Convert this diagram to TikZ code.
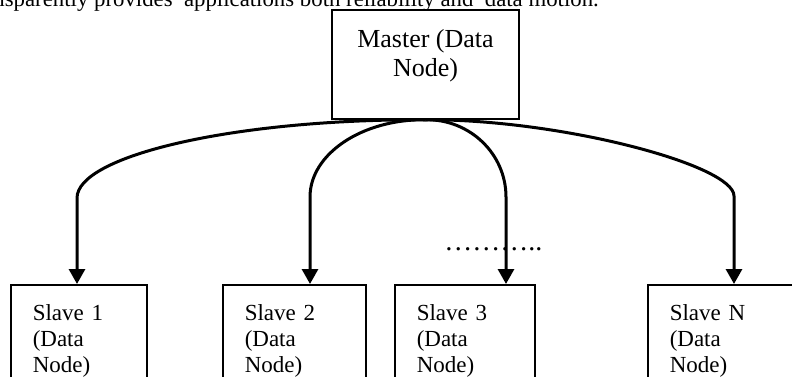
\documentclass[tikz,border=0pt]{standalone}
\usepackage{fontspec}
\setmainfont{Liberation Serif}
\usetikzlibrary{arrows.meta,positioning}

\tikzset{
  slavebox/.style={draw, line width=0.75pt, anchor=north west, align=left,
    text width=#1, inner xsep=11pt, inner ysep=9.7pt,
    font=\fontsize{11.5}{13}\selectfont},
  masterbox/.style={draw, line width=0.75pt, inner sep=0pt},
  link/.style={line width=1.5pt, -{Triangle[width=8pt,length=7.5pt]}},
}

\begin{document}
\begin{tikzpicture}[x=0.5pt, y=-0.5pt]
  \useasboundingbox (0,0) rectangle (792,376);
  % 上方正文（被截断）
  \node[anchor=base west, inner sep=0pt, font=\fontsize{11.4}{13}\selectfont] (intro) at (-31,6.5)
    {transparently provides\ \ applications both reliability and\ \ data motion.};
  % 主节点
  \node[masterbox, minimum width=93.5pt, minimum height=54.5pt] (m) at (425.5,64.5) {};
  \node[anchor=north, align=center, inner sep=0pt, font=\fontsize{13}{14.5}\selectfont] (mt) at (425.5,29)
    {Master (Data\\Node)};
  % 从节点
  \node[slavebox=46pt] (s1) at (10,284) {Slave 1\\(Data\\Node)};
  \node[slavebox=49.5pt] (s2) at (222,284) {Slave 2\\(Data\\Node)};
  \node[slavebox=48pt] (s3) at (394,284) {Slave 3\\(Data\\Node)};
  \node[slavebox=51pt] (sn) at (647,284) {Slave N\\(Data\\Node)};
  \node[anchor=base west, inner sep=0pt, font=\fontsize{14}{16}\selectfont] (dots) at (444,250) {………..};
  % 连线
  \coordinate (t1) at (77,198);
  \coordinate (t2) at (310,197);
  \coordinate (t3) at (506,197);
  \coordinate (tn) at (734,196);
  \draw[link] (m.south) .. controls (233,119) and (77,156) .. (t1) -- (t1 |- s1.north);
  \draw[link] (m.south) .. controls (362,119) and (310,154) .. (t2) -- (t2 |- s2.north);
  \draw[link] (m.south) .. controls (470,119) and (506,154) .. (t3) -- (t3 |- s3.north);
  \draw[link] (m.south) .. controls (560,119) and (734,165) .. (tn) -- (tn |- sn.north);
\end{tikzpicture}
\end{document}
